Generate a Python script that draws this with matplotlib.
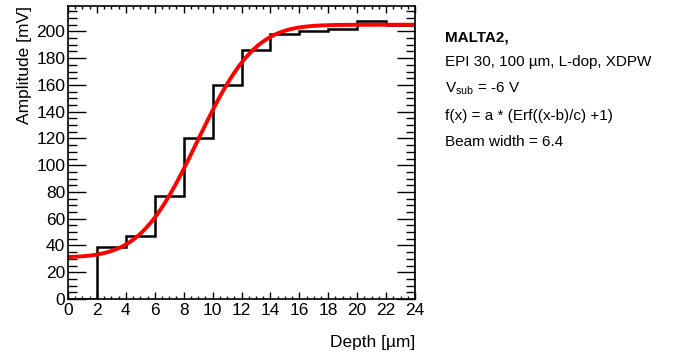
import numpy as np
import matplotlib
matplotlib.use("Agg")
import matplotlib.pyplot as plt
from matplotlib.ticker import MultipleLocator
from math import erf

plt.rcParams['font.family'] = ['Liberation Sans', 'DejaVu Sans']
plt.rcParams['mathtext.fontset'] = 'custom'
plt.rcParams['mathtext.rm'] = 'Liberation Sans'
plt.rcParams['mathtext.it'] = 'Liberation Sans:italic'

# Measured amplitude per depth bin
bin_edges = [0, 2, 4, 6, 8, 10, 12, 14, 16, 18, 20, 22, 24]
amplitude = [0, 39, 47, 77, 120, 160, 186, 198, 200, 202, 208, 205]

# Error-function fit parameters
fit_offset = 31.0
fit_a = 87.0
fit_b = 8.95
fit_c = 4.4

x_ticks = [0, 2, 4, 6, 8, 10, 12, 14, 16, 18, 20, 22, 24]
y_ticks = [0, 20, 40, 60, 80, 100, 120, 140, 160, 180, 200]

info_lines = [
    ("MALTA2,", "bold"),
    ("EPI 30, 100 µm, L-dop, XDPW", "normal"),
    (r"$\mathrm{V_{sub}}$ = -6 V", "normal"),
    ("f(x) = a * (Erf((x-b)/c) +1)", "normal"),
    ("Beam width = 6.4", "normal"),
]

fig = plt.figure(figsize=(6.86, 3.59), dpi=100)
ax = fig.add_axes([68 / 686, 1 - 299 / 359, (415 - 68) / 686, (299 - 6) / 359])

ax.stairs(amplitude, bin_edges, color='black', linewidth=1.8)

xf = np.linspace(bin_edges[0], bin_edges[-1], 400)
yf = fit_offset + fit_a * (np.array([erf((v - fit_b) / fit_c) for v in xf]) + 1)
ax.plot(xf, yf, color='#ff0000', linewidth=2.8)

ax.set_xlim(0, 24)
ax.set_ylim(0, 219)
ax.set_xticks(x_ticks)
ax.set_yticks(y_ticks)
ax.xaxis.set_minor_locator(MultipleLocator(0.5))
ax.yaxis.set_minor_locator(MultipleLocator(5))
ax.tick_params(axis='x', which='major', direction='in', length=5, width=1,
               top=True, labelsize=12.5, pad=3)
ax.tick_params(axis='x', which='minor', direction='in', length=2.5, width=1, top=True)
ax.tick_params(axis='y', which='major', direction='in', length=13, width=1,
               right=True, labelsize=12.5, pad=2)
ax.tick_params(axis='y', which='minor', direction='in', length=6.5, width=1, right=True)
for s in ax.spines.values():
    s.set_linewidth(1.2)

ax.set_xlabel("Depth [µm]", fontsize=12.5, loc='right', labelpad=12)
ax.set_ylabel("Amplitude [mV]", fontsize=12.5, loc='top', labelpad=3)

y_pos = [38, 62, 89, 116, 142]
for (txt, weight), yp in zip(info_lines, y_pos):
    fig.text(445 / 686, 1 - yp / 359, txt, fontsize=11, fontweight=weight,
             ha='left', va='center')

fig.savefig("out.png", dpi=100)
